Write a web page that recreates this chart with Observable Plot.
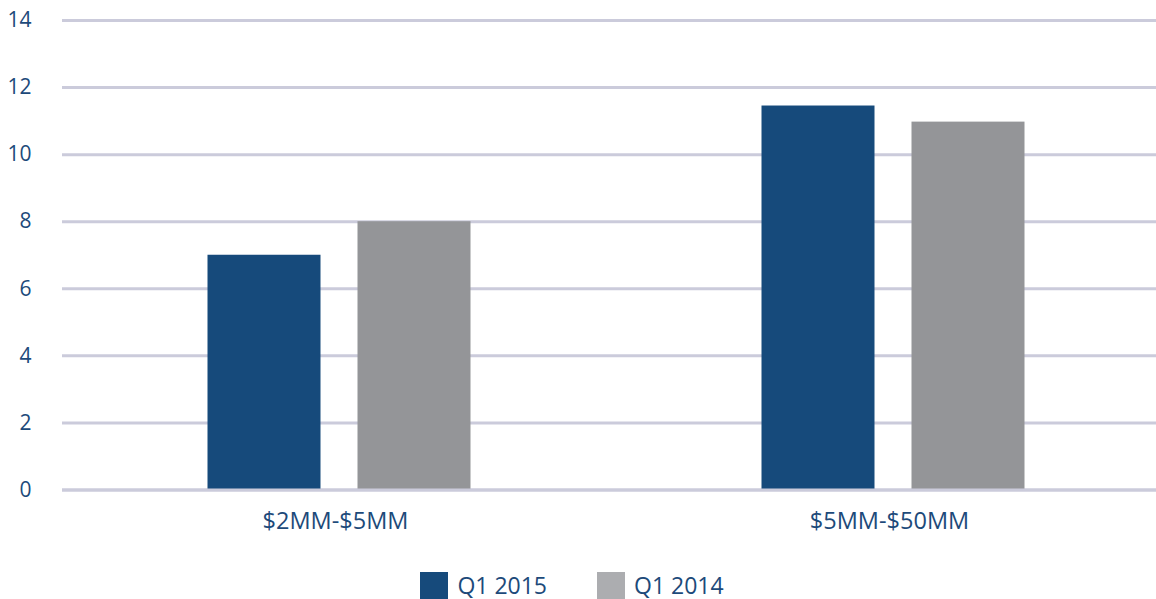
<!DOCTYPE html>
<html><head><meta charset="utf-8">
<script src="https://cdn.jsdelivr.net/npm/d3@7"></script>
<script src="https://cdn.jsdelivr.net/npm/@observablehq/plot@0.6"></script>
<style>
body{margin:0;background:#fff;overflow:hidden;font-family:"Open Sans",sans-serif;}
#wrap{width:1156px;height:560px;overflow:hidden;}
#wrap svg{max-width:none !important;}
#legend{display:flex;justify-content:center;align-items:center;height:28px;margin-top:11px;padding-right:12px;color:#1d4a7a;font-size:23px;}
.item{display:flex;align-items:center;margin:0 25px;}
.sw{width:28px;height:27px;margin-right:9px;}
</style></head><body>
<div id="wrap"></div>
<div id="legend"></div>
<script>
const categories = ["$2MM-$5MM", "$5MM-$50MM"];
const series = ["Q1 2015", "Q1 2014"];
const q1_2015 = [7.0, 11.45];
const q1_2014 = [8.0, 10.97];
const yTicks = [0, 2, 4, 6, 8, 10, 12, 14];
const barColors = ["#164a7b", "#949598"];
const legendColors = ["#164a7b", "#acadb0"];

const data = categories.flatMap((c, i) => [
  {category: c, series: series[0], value: q1_2015[i]},
  {category: c, series: series[1], value: q1_2014[i]}
]);

const textColor = "#1d4a7a";
const gridColor = "#cbcbdb";

const chart = Plot.plot({
  width: 1170, height: 560,
  marginLeft: 61.5, marginRight: 0.5, marginTop: 20, marginBottom: 70.5,
  style: {fontFamily: "Open Sans", fontSize: "21px", color: textColor, background: "#fff", maxWidth: "none"},
  fx: {domain: categories, padding: 0, label: null},
  x: {domain: series, paddingInner: 0.247, paddingOuter: 0.97, axis: null},
  y: {domain: [0, 14], label: null},
  color: {domain: series, range: barColors},
  marks: [
    Plot.ruleY(yTicks, {stroke: gridColor, strokeWidth: 3}),
    Plot.barY(data, {fx: "category", x: "series", y: "value", fill: "series"}),
    Plot.ruleY([0], {stroke: gridColor, strokeWidth: 3}),
    Plot.axisY({ticks: yTicks, tickSize: 0, tickPadding: 31, fontSize: 21, fill: textColor, label: null}),
    Plot.axisFx({anchor: "bottom", tickSize: 0, tickPadding: 22, fontSize: 23.5, fill: textColor, label: null, dx: -4})
  ]
});
chart.style.maxWidth = "none";
chart.style.width = "1170px";
chart.style.height = "560px";
document.getElementById("wrap").appendChild(chart);

const legend = document.getElementById("legend");
series.forEach((s, i) => {
  const item = document.createElement("div");
  item.className = "item";
  const sw = document.createElement("div");
  sw.className = "sw";
  sw.style.background = legendColors[i];
  const t = document.createElement("span");
  t.textContent = s;
  item.appendChild(sw);
  item.appendChild(t);
  legend.appendChild(item);
});
</script>
</body></html>
